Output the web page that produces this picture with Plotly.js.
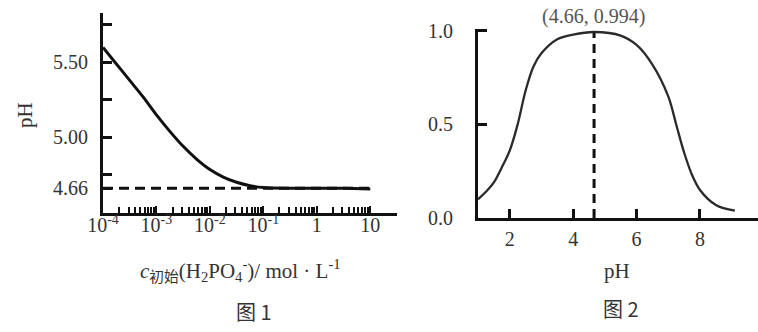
<!DOCTYPE html>
<html>
<head>
<meta charset="utf-8">
<script src="https://cdn.plot.ly/plotly-3.0.1.min.js"></script>
<style>html,body{margin:0;padding:0;background:#fff;}#chart{width:758px;height:332px;}</style>
</head>
<body>
<div id="chart"></div>
<script>
// ---- Figure 1: pH vs initial H2PO4- concentration ----
const conc1 = [1e-4, 1.78e-4, 3.16e-4, 5.62e-4, 1e-3, 1.78e-3, 3.16e-3, 5.62e-3, 1e-2, 1.78e-2, 3.16e-2, 5.62e-2, 0.1, 0.316, 1, 3.16, 10];
const pH1   = [5.60, 5.49, 5.38, 5.27, 5.15, 5.04, 4.94, 4.855, 4.785, 4.735, 4.70, 4.677, 4.665, 4.66, 4.66, 4.66, 4.655];
const dashLevel1 = 4.66;
const dashX1 = [1e-4, 10];
const yTickVals1 = [4.66, 5.00, 5.50];
const yTickText1 = ["4.66", "5.00", "5.50"];
const yMinorVals1 = [4.75, 5.25, 5.75];
const decades1 = [1e-4, 1e-3, 1e-2, 1e-1, 1, 10];
const decadeLabels1 = ["10<sup>-4</sup>", "10<sup>-3</sup>", "10<sup>-2</sup>", "10<sup>-1</sup>", "1", "10"];
const minorMultipliers1 = [2, 3, 4, 5, 6, 7, 8, 9];

// ---- Figure 2: distribution fraction of H2PO4- vs pH ----
const pH2   = [1, 1.25, 1.5, 1.75, 2, 2.25, 2.5, 2.75, 3, 3.5, 4, 4.66, 5.5, 6, 6.5, 7, 7.25, 7.5, 7.75, 8, 8.5, 9.1];
const frac2 = [0.10, 0.14, 0.19, 0.27, 0.36, 0.50, 0.68, 0.81, 0.88, 0.955, 0.98, 0.994, 0.975, 0.925, 0.82, 0.65, 0.50, 0.35, 0.23, 0.15, 0.07, 0.04];
const peakPH = 4.66, peakFrac = 0.994;
const xTickVals2 = [2, 4, 6, 8];
const yTickVals2 = [0, 0.5, 1.0];
const yTickText2 = ["0.0", "0.5", "1.0"];

// minor tick positions (2..9 x decade) for the log axis of figure 1
const xMinorVals1 = [];
decades1.slice(0, -1).forEach(d => minorMultipliers1.forEach(m => xMinorVals1.push(m * d)));

const FONT = "'Liberation Serif', 'Noto Sans CJK SC', serif";
const CJK = "'Noto Sans CJK SC', sans-serif";
const TXT = "#333";

const traces = [
  {x: dashX1, y: [dashLevel1, dashLevel1], xaxis: 'x', yaxis: 'y', mode: 'lines',
   line: {color: '#111', width: 3, dash: '10px,6px'}, hoverinfo: 'skip'},
  {x: conc1, y: pH1, xaxis: 'x', yaxis: 'y', mode: 'lines',
   line: {color: '#111', width: 3, shape: 'spline', smoothing: 0.9}},
  {x: [peakPH, peakPH], y: [0, peakFrac], xaxis: 'x2', yaxis: 'y2', mode: 'lines',
   line: {color: '#111', width: 3, dash: '9px,6px'}, hoverinfo: 'skip'},
  {x: pH2, y: frac2, xaxis: 'x2', yaxis: 'y2', mode: 'lines',
   line: {color: '#2a2a2a', width: 2.3, shape: 'spline', smoothing: 1}}
];

const W = 758, H = 332;
const px = v => v / W, py = v => 1 - v / H;

const axBase = {showgrid: false, zeroline: false, showline: true, linecolor: '#111', linewidth: 3,
  ticks: 'inside', tickcolor: '#111', fixedrange: true,
  tickfont: {family: FONT, size: 20, color: TXT}};

const ann = (x, y, text, font, extra) => Object.assign({xref: 'paper', yref: 'paper', x: px(x), y: py(y),
  xanchor: 'center', yanchor: 'middle', text: text, showarrow: false, font: font}, extra || {});

const layout = {
  width: W, height: H, margin: {l: 0, r: 0, t: 0, b: 0},
  paper_bgcolor: '#fff', plot_bgcolor: 'rgba(0,0,0,0)', showlegend: false,
  font: {family: FONT, color: TXT},
  xaxis: Object.assign({}, axBase, {type: 'log', domain: [px(103), px(397)], range: [-4, 1.5],
    anchor: 'y', tickmode: 'array', tickvals: decades1, ticktext: decadeLabels1,
    ticklen: 7, tickwidth: 2, ticklabelstandoff: -8,
    minor: {tickmode: 'array', tickvals: xMinorVals1, ticks: 'inside', ticklen: 6, tickwidth: 2, tickcolor: '#111'}}),
  yaxis: Object.assign({}, axBase, {domain: [py(213), py(13)], range: [4.495, 5.83], anchor: 'x',
    tickmode: 'array', tickvals: yTickVals1, ticktext: yTickText1, ticklen: 9, tickwidth: 3,
    ticklabelstandoff: 8,
    minor: {tickmode: 'array', tickvals: yMinorVals1, ticks: 'inside', ticklen: 9, tickwidth: 3, tickcolor: '#111'}}),
  xaxis2: Object.assign({}, axBase, {domain: [px(478), 1], range: [1, 9.83], anchor: 'y2',
    tickmode: 'array', tickvals: xTickVals2, ticklen: 9, tickwidth: 3, ticklabelstandoff: 1}),
  yaxis2: Object.assign({}, axBase, {domain: [py(218), py(29)], range: [0, 1.01], anchor: 'x2',
    tickmode: 'array', tickvals: yTickVals2, ticktext: yTickText2, ticklen: 9, tickwidth: 3,
    ticklabelstandoff: 18}),
  annotations: [
    ann(25, 115, 'pH', {family: FONT, size: 21, color: TXT}, {textangle: -90}),
    ann(240, 270, '<i>c</i><sub>初始</sub>(H<sub>2</sub>PO<sub>4</sub><sup>-</sup>)/ mol · L<sup>-1</sup>',
        {family: FONT, size: 21, color: TXT}),
    ann(254, 311, '图 1', {family: CJK, size: 20, color: TXT}),
    ann(617, 271, 'pH', {family: FONT, size: 21, color: TXT}),
    ann(621, 308, '图 2', {family: CJK, size: 20, color: TXT}),
    ann(593, 17, '(4.66, 0.994)', {family: FONT, size: 20, color: '#555'})
  ]
};

Plotly.newPlot('chart', traces, layout, {displayModeBar: false, staticPlot: true});
</script>
</body>
</html>
